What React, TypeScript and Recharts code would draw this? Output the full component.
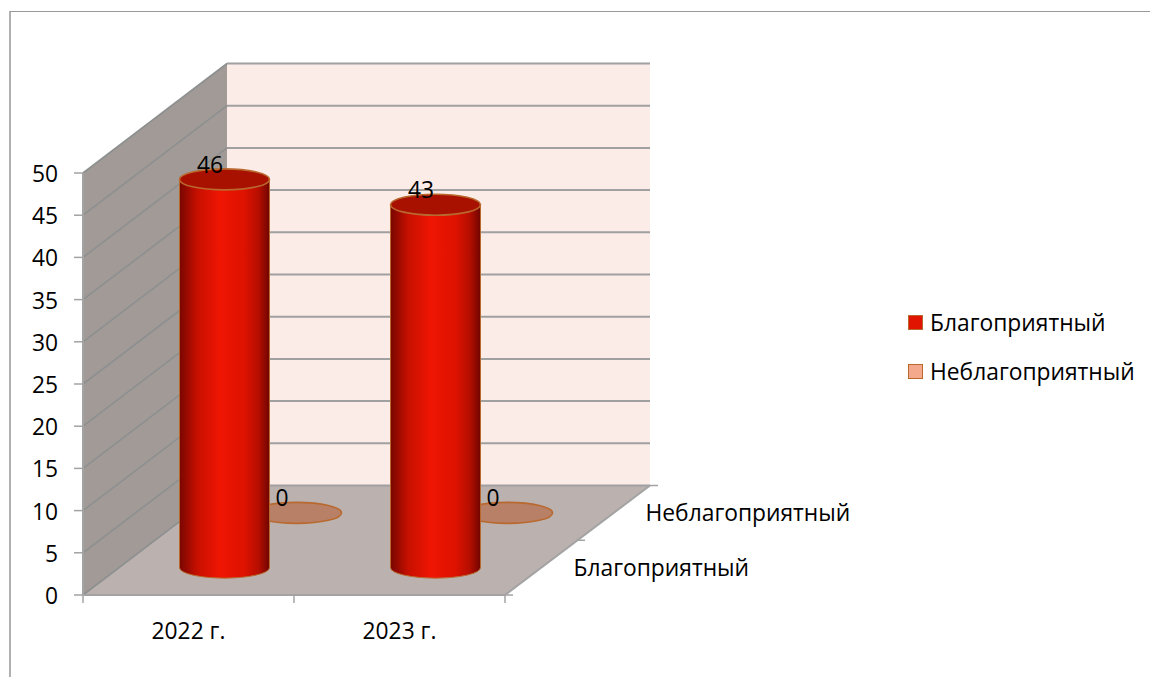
import {
  Bar,
  BarChart,
  LabelList,
  Legend,
  XAxis,
  YAxis,
  usePlotArea,
} from "recharts";

const years = ["2022 г.", "2023 г."];
const favorable = [46, 43];
const unfavorable = [0, 0];
const seriesNames = ["Благоприятный", "Неблагоприятный"];
const yTicks = [0, 5, 10, 15, 20, 25, 30, 35, 40, 45, 50];

const rows = years.map((year, i) => ({
  year,
  favorable: favorable[i],
  unfavorable: unfavorable[i],
}));

const font = "'Open Sans', sans-serif";
const fontSize = 22.8;
const lineColor = "#a3a3a3";
const edgeColor = "#b9692e";

// how far the back wall sits from the front plane
const depthX = 144;
const depthY = 109.5;
const yMax = 50;

function depthOffset(slot: number) {
  const f = (slot + 0.5) / seriesNames.length;
  return { dx: depthX * f - 0.5, dy: -depthY * f };
}

// back wall, side wall, floor and the extra axis marks, all behind the bars
function Walls() {
  const plot = usePlotArea();
  if (!plot) return null;
  const { x: left, y: top, width, height } = plot;
  const right = left + width;
  const bottom = top + height;
  const backLeft = left + depthX;
  const backRight = right + depthX + 1;
  const yOf = (t: number) => bottom - (t / yMax) * height;

  return (
    <g>
      <defs>
        <linearGradient id="cylinderSide" x1="0" x2="1" y1="0" y2="0">
          <stop offset="0" stopColor="#780600" />
          <stop offset="0.2" stopColor="#c81000" />
          <stop offset="0.45" stopColor="#ef1503" />
          <stop offset="0.72" stopColor="#de1200" />
          <stop offset="0.88" stopColor="#b50e00" />
          <stop offset="1" stopColor="#700500" />
        </linearGradient>
      </defs>
      <polygon
        points={`${backLeft},${top - depthY} ${backRight},${top - depthY} ${backRight},${bottom - depthY} ${backLeft},${bottom - depthY}`}
        fill="#fbece8"
      />
      <polygon
        points={`${left},${top} ${backLeft},${top - depthY} ${backLeft},${bottom - depthY} ${left},${bottom}`}
        fill="#a29a96"
      />
      <polygon
        points={`${left},${bottom} ${backLeft},${bottom - depthY} ${backRight},${bottom - depthY} ${right},${bottom}`}
        fill="#bbb1af"
      />
      {yTicks.map((t) => (
        <g key={t}>
          <line
            x1={left}
            y1={yOf(t)}
            x2={backLeft}
            y2={yOf(t) - depthY}
            stroke="#8d9090"
            strokeWidth={1.6}
          />
          <line
            x1={backLeft}
            y1={yOf(t) - depthY}
            x2={backRight}
            y2={yOf(t) - depthY}
            stroke="#a0a0a0"
            strokeWidth={2}
          />
        </g>
      ))}
      <line
        x1={right}
        y1={bottom}
        x2={backRight}
        y2={bottom - depthY}
        stroke={lineColor}
        strokeWidth={2}
      />
      <line
        x1={backRight}
        y1={bottom - depthY}
        x2={backRight + 8}
        y2={bottom - depthY}
        stroke={lineColor}
        strokeWidth={1.5}
      />
      <line
        x1={right + depthX / 2}
        y1={bottom - depthY / 2}
        x2={right + depthX / 2 + 8}
        y2={bottom - depthY / 2}
        stroke={lineColor}
        strokeWidth={1.5}
      />
      <line
        x1={right}
        y1={bottom}
        x2={right + 8}
        y2={bottom}
        stroke={lineColor}
        strokeWidth={1.5}
      />
      {years.concat("").map((_, i) => (
        <line
          key={i}
          x1={left + (width * i) / years.length}
          y1={bottom}
          x2={left + (width * i) / years.length}
          y2={bottom + 8}
          stroke={lineColor}
          strokeWidth={1.5}
        />
      ))}
      {seriesNames.map((name, slot) => {
        const { dx, dy } = depthOffset(slot);
        return (
          <text
            key={name}
            x={right + dx + 33}
            y={bottom + dy}
            dominantBaseline="central"
            fontFamily={font}
            fontSize={fontSize}
            fill="#000"
          >
            {name}
          </text>
        );
      })}
    </g>
  );
}

function Cylinder(props: any) {
  const { x, y, width, height, slot, cap, side } = props;
  const { dx, dy } = depthOffset(slot);
  const rx = width / 2;
  const ry = 10.5;
  const l = x + dx;
  const r = l + width;
  const t = y + dy;
  const b = y + height + dy;
  return (
    <g>
      {height > 0 && (
        <path
          d={`M${l},${t} L${l},${b} A${rx},${ry} 0 0 0 ${r},${b} L${r},${t} Z`}
          fill={side}
          stroke={edgeColor}
          strokeWidth={1}
        />
      )}
      <ellipse
        cx={l + rx}
        cy={t}
        rx={rx}
        ry={ry}
        fill={cap}
        stroke={edgeColor}
        strokeWidth={1.6}
      />
    </g>
  );
}

function ValueLabel(props: any) {
  const { x, y, width, value, slot } = props;
  const { dx, dy } = depthOffset(slot);
  return (
    <text
      x={x + width / 2 + dx - 14.5}
      y={y + dy - 15}
      textAnchor="middle"
      dominantBaseline="central"
      fontFamily={font}
      fontSize={fontSize}
      fill="#000"
    >
      {value}
    </text>
  );
}

function LegendBox() {
  const swatches = ["#e01400", "#f4a98c"];
  return (
    <div style={{ fontFamily: font, fontSize, color: "#000" }}>
      {seriesNames.map((name, i) => (
        <div
          key={name}
          style={{
            display: "flex",
            alignItems: "center",
            height: 49,
            whiteSpace: "nowrap",
          }}
        >
          <span
            style={{
              display: "inline-block",
              boxSizing: "border-box",
              width: 15,
              height: 15,
              marginRight: 7,
              background: swatches[i],
              border: `1px solid ${edgeColor}`,
            }}
          />
          {name}
        </div>
      ))}
    </div>
  );
}

export default function App() {
  return (
    <div
      style={{
        position: "absolute",
        left: 0,
        top: 0,
        width: 1150,
        height: 677,
        background: "#fff",
        overflow: "hidden",
      }}
    >
      <div
        style={{
          position: "absolute",
          left: 9,
          top: 11,
          right: 0,
          bottom: 0,
          borderTop: "1px solid #9a9a9a",
          borderLeft: "2px solid #b0b0b0",
        }}
      />
      <BarChart
        width={1150}
        height={677}
        data={rows}
        barSize={90}
        margin={{ top: 173, right: 645, bottom: 52, left: 23 }}
        style={{ position: "absolute", left: 0, top: 0 }}
      >
        <Walls />
        <XAxis
          dataKey="year"
          height={30}
          axisLine={{ stroke: lineColor, strokeWidth: 2 }}
          tickLine={false}
          tickMargin={22}
          tick={{ fill: "#000", fontFamily: font, fontSize }}
        />
        <XAxis dataKey="year" xAxisId="back" hide />
        <YAxis
          width={60}
          domain={[0, yMax]}
          ticks={yTicks}
          interval={0}
          axisLine={{ stroke: lineColor, strokeWidth: 2 }}
          tickLine={{ stroke: lineColor, strokeWidth: 1.5 }}
          tickSize={9}
          tickMargin={16}
          tick={{ fill: "#000", fontFamily: font, fontSize, dy: 1 }}
        />
        <Legend
          layout="vertical"
          align="center"
          verticalAlign="middle"
          content={<LegendBox />}
          wrapperStyle={{ left: 908, top: 298, width: 240 }}
        />
        <Bar
          dataKey="unfavorable"
          name={seriesNames[1]}
          xAxisId="back"
          isAnimationActive={false}
          shape={<Cylinder slot={1} cap="#b98068" side="#f4a98c" />}
        >
          <LabelList dataKey="unfavorable" content={<ValueLabel slot={1} />} />
        </Bar>
        <Bar
          dataKey="favorable"
          name={seriesNames[0]}
          isAnimationActive={false}
          shape={<Cylinder slot={0} cap="#a81000" side="url(#cylinderSide)" />}
        >
          <LabelList dataKey="favorable" content={<ValueLabel slot={0} />} />
        </Bar>
      </BarChart>
    </div>
  );
}
